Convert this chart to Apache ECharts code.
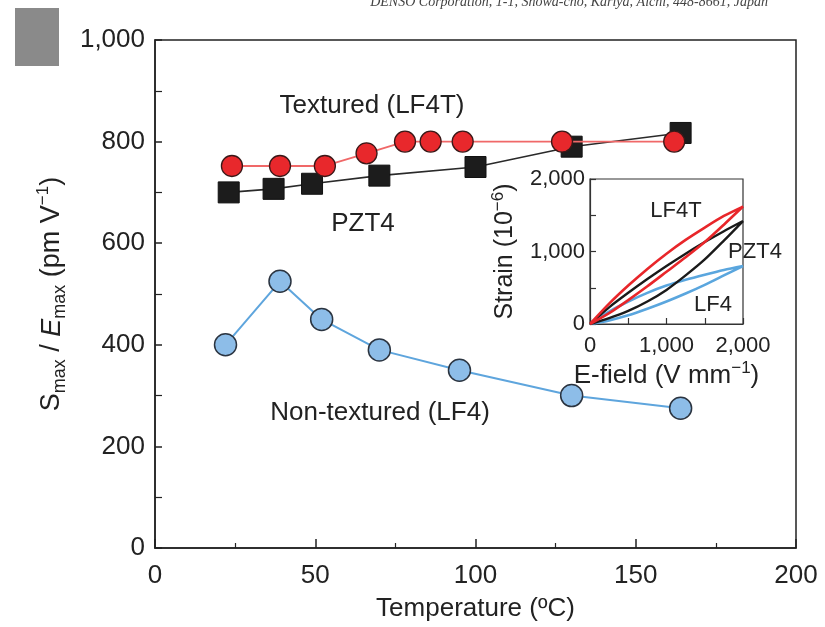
<!DOCTYPE html>
<html>
<head>
<meta charset="utf-8">
<script src="https://cdn.jsdelivr.net/npm/echarts@6/dist/echarts.min.js"></script>
<style>
html,body{margin:0;padding:0;background:#fff;}
#chart{width:825px;height:627px;}
</style>
</head>
<body>
<div id="chart"></div>
<script>
// ---- Main panel data (Temperature in °C, Smax/Emax in pm/V) ----
const lf4tTemp = [24, 39, 53, 66, 78, 86, 96, 127, 162];
const lf4tVal  = [752, 752, 752, 777, 800, 800, 800, 800, 800];
const pzt4Temp = [23, 37, 49, 70, 100, 130, 164];
const pzt4Val  = [700, 707, 717, 733, 750, 790, 817];
const lf4Temp  = [22, 39, 52, 70, 95, 130, 164];
const lf4Val   = [400, 525, 450, 390, 350, 300, 275];

const xTicks = [0, 50, 100, 150, 200];
const yTicks = [0, 200, 400, 600, 800, 1000];

// ---- Inset data (E-field in V/mm, strain in 1e-6) ----
const insetE = [0, 250, 500, 750, 1000, 1250, 1500, 1750, 2000];
const lf4tRise = [0, 150, 330, 520, 720, 920, 1130, 1370, 1620];
const lf4tFall = [0, 280, 530, 760, 970, 1160, 1330, 1490, 1620];
const pzt4Rise = [0, 80, 180, 310, 470, 670, 890, 1150, 1420];
const pzt4Fall = [0, 230, 430, 620, 800, 970, 1130, 1280, 1420];
const lf4Rise  = [0, 50, 120, 210, 310, 420, 540, 670, 800];
const lf4Fall  = [0, 170, 310, 430, 530, 610, 680, 745, 800];
const insetTickLabels = [0, 1000, 2000];

function pairs(xs, ys) { return xs.map((x, i) => [x, ys[i]]); }
function loop(xs, rise, fall) {
  const up = xs.map((x, i) => [x, rise[i]]);
  const down = xs.map((x, i) => [x, fall[i]]).reverse();
  return up.concat(down.slice(1));
}
function comma(v) { return v >= 1000 ? Math.floor(v / 1000) + ',' + String(v % 1000).padStart(3, '0') : String(v); }

const FONT = 'Liberation Sans';
const chart = echarts.init(document.getElementById('chart'), null, {renderer: 'canvas'});

const option = {
  backgroundColor: '#fff',
  animation: false,
  textStyle: {fontFamily: FONT},
  grid: [
    {left: 155, top: 40, right: 29, bottom: 76, show: true, borderColor: '#222', borderWidth: 1.5, backgroundColor: 'transparent'},
    {left: 590, top: 179, right: 82, bottom: 303, show: true, borderColor: '#333', borderWidth: 1.2, backgroundColor: 'transparent'}
  ],
  xAxis: [
    {
      gridIndex: 0, type: 'value', min: 0, max: 200, interval: 50,
      axisLine: {show: true, lineStyle: {color: '#222', width: 1.5}},
      axisTick: {show: true, inside: true, length: 9, lineStyle: {color: '#222', width: 1.5}},
      minorTick: {show: true, splitNumber: 2, length: 5, lineStyle: {color: '#222', width: 1.2}},
      splitLine: {show: false},
      axisLabel: {fontSize: 26, color: '#222', margin: 15, fontFamily: FONT,
        formatter: v => xTicks.indexOf(v) >= 0 ? String(v) : ''},
      name: 'Temperature (ºC)', nameLocation: 'middle', nameGap: 48,
      nameTextStyle: {fontSize: 26, color: '#222', fontFamily: FONT}
    },
    {
      gridIndex: 1, type: 'value', min: 0, max: 2000, interval: 500,
      axisLine: {show: true, lineStyle: {color: '#333', width: 1.2}},
      axisTick: {show: true, inside: true, length: 6, lineStyle: {color: '#333', width: 1.2}},
      splitLine: {show: false},
      axisLabel: {fontSize: 22, color: '#222', margin: 11, fontFamily: FONT, showMaxLabel: true,
        formatter: v => insetTickLabels.indexOf(v) >= 0 ? comma(v) : ''},
      name: '{n|E-field (V mm}{sup|−1}{n|)}', nameLocation: 'middle', nameGap: 36,
      nameTextStyle: {color: '#222', fontFamily: FONT,
        rich: {
          n: {fontSize: 26, lineHeight: 32, color: '#222', fontFamily: FONT},
          sup: {fontSize: 17, lineHeight: 17, verticalAlign: 'top', color: '#222', fontFamily: FONT}
        }}
    }
  ],
  yAxis: [
    {
      gridIndex: 0, type: 'value', min: 0, max: 1000, interval: 200,
      axisLine: {show: true, lineStyle: {color: '#222', width: 1.5}},
      axisTick: {show: true, inside: true, length: 7, lineStyle: {color: '#222', width: 1.5}},
      minorTick: {show: true, splitNumber: 2, length: 7, lineStyle: {color: '#222', width: 1.2}},
      splitLine: {show: false},
      axisLabel: {fontSize: 26, color: '#222', margin: 10, fontFamily: FONT,
        formatter: v => yTicks.indexOf(v) >= 0 ? comma(v) : ''},
      name: '{n|S}{sub|max}{n| / }{i|E}{sub|max}{n| (pm V}{sup|−1}{n|)}',
      nameLocation: 'middle', nameRotate: 90, nameGap: 84,
      nameTextStyle: {color: '#222', fontFamily: FONT,
        rich: {
          n: {fontSize: 27, lineHeight: 34, color: '#222', fontFamily: FONT},
          i: {fontSize: 27, lineHeight: 34, color: '#222', fontStyle: 'italic', fontFamily: FONT},
          sub: {fontSize: 18, lineHeight: 18, verticalAlign: 'bottom', color: '#222', fontFamily: FONT},
          sup: {fontSize: 17, lineHeight: 17, verticalAlign: 'top', color: '#222', fontFamily: FONT}
        }}
    },
    {
      gridIndex: 1, type: 'value', min: 0, max: 2000, interval: 500,
      axisLine: {show: true, lineStyle: {color: '#333', width: 1.2}},
      axisTick: {show: true, inside: true, length: 6, lineStyle: {color: '#333', width: 1.2}},
      splitLine: {show: false},
      axisLabel: {fontSize: 22, color: '#222', margin: 5, fontFamily: FONT, showMaxLabel: true,
        formatter: v => insetTickLabels.indexOf(v) >= 0 ? comma(v) : ''},
      name: '{n|Strain (10}{sup|−6}{n|)}', nameLocation: 'middle', nameRotate: 90, nameGap: 70,
      nameTextStyle: {color: '#222', fontFamily: FONT,
        rich: {
          n: {fontSize: 25, lineHeight: 30, color: '#222', fontFamily: FONT},
          sup: {fontSize: 17, lineHeight: 17, verticalAlign: 'top', color: '#222', fontFamily: FONT}
        }}
    }
  ],
  series: [
    {
      type: 'line', xAxisIndex: 1, yAxisIndex: 1, data: loop(insetE, lf4Rise, lf4Fall),
      showSymbol: false, symbol: 'none', smooth: 0.25, lineStyle: {color: '#5aa6de', width: 2.6}, z: 3
    },
    {
      type: 'line', xAxisIndex: 1, yAxisIndex: 1, data: loop(insetE, pzt4Rise, pzt4Fall),
      showSymbol: false, symbol: 'none', smooth: 0.25, lineStyle: {color: '#1a1a1a', width: 2.4}, z: 4
    },
    {
      type: 'line', xAxisIndex: 1, yAxisIndex: 1, data: loop(insetE, lf4tRise, lf4tFall),
      showSymbol: false, symbol: 'none', smooth: 0.25, lineStyle: {color: '#e8262a', width: 2.6}, z: 5
    },
    {
      type: 'line', xAxisIndex: 0, yAxisIndex: 0, data: pairs(lf4Temp, lf4Val),
      symbol: 'circle', symbolSize: 22,
      lineStyle: {color: '#5ea5dd', width: 2},
      itemStyle: {color: '#8dbde8', borderColor: '#2b3440', borderWidth: 1.5}, z: 6
    },
    {
      type: 'line', xAxisIndex: 0, yAxisIndex: 0, data: pairs(pzt4Temp, pzt4Val),
      symbol: 'rect', symbolSize: 21,
      lineStyle: {color: '#2a2a2a', width: 1.6},
      itemStyle: {color: '#1c1c1c', borderColor: '#111', borderWidth: 1}, z: 7
    },
    {
      type: 'line', xAxisIndex: 0, yAxisIndex: 0, data: pairs(lf4tTemp, lf4tVal),
      symbol: 'circle', symbolSize: 21,
      lineStyle: {color: '#f06868', width: 1.8},
      itemStyle: {color: '#e8282c', borderColor: '#3a1818', borderWidth: 1.3}, z: 8
    }
  ],
  graphic: [
    {type: 'rect', left: 15, top: 8, shape: {width: 44, height: 58}, style: {fill: '#8a8a8a'}, z: 1},
    {type: 'text', x: 768, y: 9, style: {text: 'DENSO Corporation, 1-1, Showa-cho, Kariya, Aichi, 448-8661, Japan',
      font: 'italic 14px "Liberation Serif"', fill: '#444', align: 'right', verticalAlign: 'bottom'}},
    {type: 'text', x: 372, y: 106, style: {text: 'Textured (LF4T)', font: '26px "Liberation Sans"', fill: '#222', align: 'center', verticalAlign: 'middle'}, z: 20},
    {type: 'text', x: 363, y: 224, style: {text: 'PZT4', font: '26px "Liberation Sans"', fill: '#222', align: 'center', verticalAlign: 'middle'}, z: 20},
    {type: 'text', x: 380, y: 413, style: {text: 'Non-textured (LF4)', font: '26px "Liberation Sans"', fill: '#222', align: 'center', verticalAlign: 'middle'}, z: 20},
    {type: 'text', x: 676, y: 211, style: {text: 'LF4T', font: '22px "Liberation Sans"', fill: '#222', align: 'center', verticalAlign: 'middle'}, z: 20},
    {type: 'text', x: 755, y: 252, style: {text: 'PZT4', font: '22px "Liberation Sans"', fill: '#222', align: 'center', verticalAlign: 'middle'}, z: 20},
    {type: 'text', x: 713, y: 305, style: {text: 'LF4', font: '22px "Liberation Sans"', fill: '#222', align: 'center', verticalAlign: 'middle'}, z: 20}
  ]
};
chart.setOption(option);
</script>
</body>
</html>
